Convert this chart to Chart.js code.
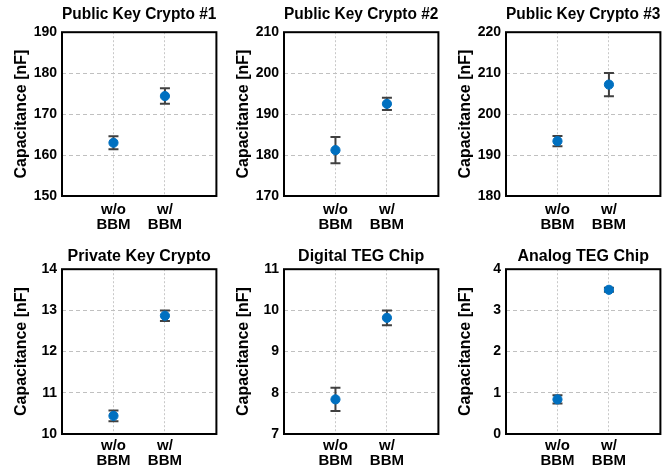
<!DOCTYPE html>
<html>
<head>
<meta charset="utf-8">
<script src="https://cdn.jsdelivr.net/npm/chart.js@4.4.1/dist/chart.umd.min.js"></script>
<style>
  body { margin: 0; background: #fff; overflow: hidden; }
  #wrap { position: relative; width: 666px; height: 472px; }
  #wrap canvas { position: absolute; }
</style>
</head>
<body>
<div id="wrap"></div>
<script>
// data
const titles = ['Public Key Crypto #1', 'Public Key Crypto #2', 'Public Key Crypto #3',
                'Private Key Crypto', 'Digital TEG Chip', 'Analog TEG Chip'];
const categories = [['w/o', 'BBM'], ['w/', 'BBM']];
const means = [[163.0, 174.4], [181.2, 192.5], [193.4, 207.2],
               [10.44, 12.87], [7.84, 9.82], [0.84, 3.50]];
const errors = [[1.6, 1.9], [3.2, 1.5], [1.25, 2.85],
                [0.13, 0.13], [0.28, 0.18], [0.10, 0.05]];
const yMins = [150, 170, 180, 10, 7, 0];
const yMaxs = [190, 210, 220, 14, 11, 4];
const yLabel = 'Capacitance [nF]';

Chart.defaults.font.family = "'Liberation Sans', Arial, sans-serif";
Chart.defaults.font.weight = 'bold';
Chart.defaults.color = '#000';

function errPlugin(i) {
  return {
    id: 'err' + i,
    afterLayout(chart) {
      // center the title over the plot box, not the whole canvas
      const t = chart.titleBlock, a = chart.chartArea;
      t.left = a.left; t.right = a.right; t.width = a.right - a.left;
    },
    beforeDatasetsDraw(chart) {
      const ctx = chart.ctx, xs = chart.scales.x, ys = chart.scales.y;
      ctx.save();
      ctx.strokeStyle = '#404040';
      ctx.lineWidth = 2;
      means[i].forEach((m, k) => {
        const x = xs.getPixelForValue(k + 1);
        const y1 = ys.getPixelForValue(m + errors[i][k]);
        const y2 = ys.getPixelForValue(m - errors[i][k]);
        ctx.beginPath();
        ctx.moveTo(x, y1); ctx.lineTo(x, y2);
        ctx.moveTo(x - 5, y1); ctx.lineTo(x + 5, y1);
        ctx.moveTo(x - 5, y2); ctx.lineTo(x + 5, y2);
        ctx.stroke();
      });
      ctx.restore();
    },
    afterDraw(chart) {
      const a = chart.chartArea, ctx = chart.ctx;
      ctx.save();
      ctx.strokeStyle = '#000';
      ctx.lineWidth = 2;
      ctx.strokeRect(a.left, a.top, a.right - a.left, a.bottom - a.top);
      ctx.restore();
    }
  };
}

const wrap = document.getElementById('wrap');
for (let i = 0; i < 6; i++) {
  const row = Math.floor(i / 3), col = i % 3;
  const cv = document.createElement('canvas');
  cv.width = 222; cv.height = 236;
  cv.style.left = (col * 222) + 'px';
  cv.style.top = (row * 236) + 'px';
  wrap.appendChild(cv);

  new Chart(cv.getContext('2d'), {
    type: 'scatter',
    data: {
      datasets: [{
        data: means[i].map((m, k) => ({ x: k + 1, y: m })),
        backgroundColor: '#0070C0',
        borderColor: '#0070C0',
        pointRadius: 4.6,
        pointHoverRadius: 4.6
      }]
    },
    options: {
      responsive: false,
      animation: false,
      layout: { padding: { left: 0, right: 4, top: 0, bottom: 0 } },
      plugins: {
        legend: { display: false },
        tooltip: { enabled: false },
        title: {
          display: true,
          text: titles[i],
          font: { size: 16, weight: 'bold' },
          color: '#000',
          padding: row === 0 ? { top: 5, bottom: 8 } : { top: 11, bottom: 3 }
        }
      },
      scales: {
        x: {
          type: 'linear',
          min: 0, max: 3,
          afterBuildTicks: s => { s.ticks = [{ value: 1 }, { value: 2 }]; },
          afterFit: s => { s.height = row === 0 ? 40 : 38; },
          ticks: {
            callback: v => categories[v - 1],
            font: { size: 15, weight: 'bold', lineHeight: 1.0 },
            color: '#000',
            padding: row === 0 ? 6 : 4,
            maxRotation: 0
          },
          grid: { color: '#c8c8c8', drawTicks: false, lineWidth: 1 },
          border: { display: false, dash: [2, 2] }
        },
        y: {
          min: yMins[i], max: yMaxs[i],
          ticks: {
            stepSize: (yMaxs[i] - yMins[i]) / 4,
            font: { size: 14, weight: 'bold' },
            color: '#000',
            padding: 5
          },
          afterFit: s => { s.width = 62; },
          title: {
            display: true,
            text: yLabel,
            font: { size: 16, weight: 'bold' },
            color: '#000',
            padding: { top: 12, bottom: 0 }
          },
          grid: { color: '#c0c0c0', drawTicks: false, lineWidth: 1 },
          border: { display: false, dash: [4, 3] }
        }
      }
    },
    plugins: [errPlugin(i)]
  });
}
</script>
</body>
</html>
